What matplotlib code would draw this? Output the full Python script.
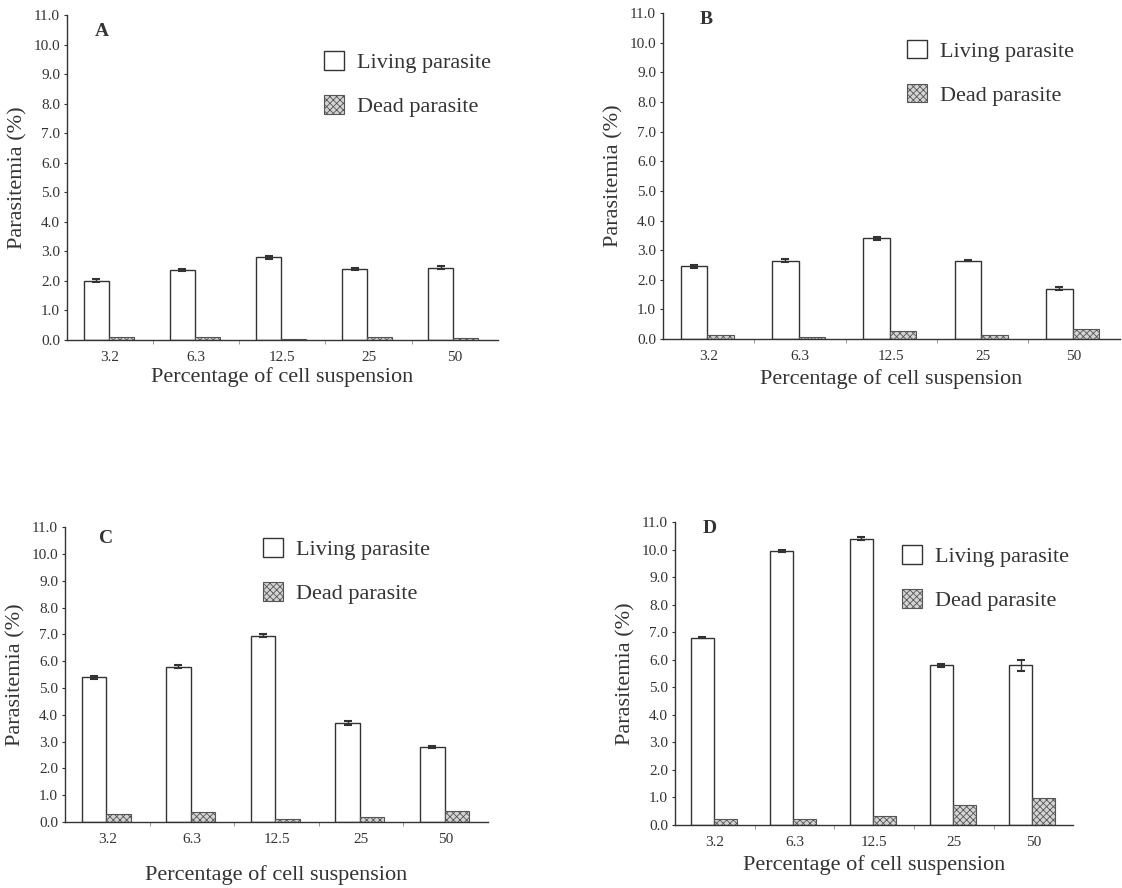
import numpy as np
import matplotlib
matplotlib.use("Agg")
import matplotlib.pyplot as plt

plt.rcParams['font.family'] = ['Liberation Serif', 'DejaVu Serif']
plt.rcParams['hatch.linewidth'] = 0.6
plt.rcParams['hatch.color'] = '#555555'

# data
categories = ['3.2', '6.3', '12.5', '25', '50']

living_a = [2.0, 2.37, 2.8, 2.4, 2.45]
dead_a = [0.10, 0.10, 0.05, 0.10, 0.07]
living_a_err = [0.05, 0.05, 0.05, 0.04, 0.05]

living_b = [2.45, 2.65, 3.4, 2.65, 1.7]
dead_b = [0.13, 0.08, 0.27, 0.15, 0.35]
living_b_err = [0.04, 0.06, 0.05, 0.02, 0.06]

living_c = [5.4, 5.8, 6.95, 3.7, 2.8]
dead_c = [0.30, 0.38, 0.12, 0.20, 0.40]
living_c_err = [0.05, 0.06, 0.06, 0.07, 0.05]

living_d = [6.8, 9.95, 10.4, 5.8, 5.8]
dead_d = [0.22, 0.22, 0.33, 0.72, 0.98]
living_d_err = [0.02, 0.05, 0.05, 0.05, 0.2]

yticks = np.arange(0, 11.5, 1.0)
ink = '#333333'


def draw_panel(ax, living, dead, err, letter, letter_pos, legend_pos):
    x = np.arange(len(categories))
    w = 0.29
    ax.bar(x - 0.16, living, w, color='white', edgecolor=ink, linewidth=1.0,
           yerr=err, error_kw=dict(ecolor=ink, capsize=3, elinewidth=1.0, capthick=1.5),
           label='Living parasite')
    ax.bar(x + 0.13, dead, w, color='#d4d4d4', edgecolor='#555555', linewidth=0.8,
           hatch='xxxxx', label='Dead parasite')
    ax.set_xlim(-0.5, 4.5)
    ax.set_ylim(0, 11.0)
    ax.set_yticks(yticks)
    ax.set_yticklabels([f'{v:.1f}' for v in yticks])
    ax.set_xticks(x)
    ax.set_xticklabels(categories)
    ax.set_xticks(np.arange(0.5, 4.5, 1.0), minor=True)
    ax.tick_params(axis='x', which='major', length=0, pad=8, labelsize=11, colors=ink)
    ax.tick_params(axis='x', which='minor', length=3, color='#888888')
    ax.tick_params(axis='y', length=2, labelsize=11, colors=ink, pad=3)
    for s in ['top', 'right']:
        ax.spines[s].set_visible(False)
    for s in ['left', 'bottom']:
        ax.spines[s].set_color(ink)
        ax.spines[s].set_linewidth(1.0)
    ax.set_ylabel('Parasitemia (%)', fontsize=16, color=ink, labelpad=4)
    ax.set_xlabel('Percentage of cell suspension', fontsize=16, color=ink, labelpad=2)
    ax.text(letter_pos[0], letter_pos[1], letter, transform=ax.transAxes,
            fontsize=14, fontweight='bold', color=ink, ha='left', va='center')
    leg = ax.legend(loc='upper left', bbox_to_anchor=legend_pos, frameon=False,
                    fontsize=16, handlelength=0.9, handleheight=0.9,
                    labelspacing=1.0, handletextpad=0.6)
    for t in leg.get_texts():
        t.set_color(ink)


fig = plt.figure(figsize=(11.22, 8.88), dpi=100)

ax_a = fig.add_axes([0.0597, 0.6171, 0.384, 0.366])
draw_panel(ax_a, living_a, dead_a, living_a_err, 'A', (0.065, 0.95), (0.55, 0.95))

ax_b = fig.add_axes([0.5909, 0.6182, 0.407, 0.367])
draw_panel(ax_b, living_b, dead_b, living_b_err, 'B', (0.08, 0.98), (0.49, 0.98))
ax_b.xaxis.labelpad = 4

ax_c = fig.add_axes([0.058, 0.0743, 0.377, 0.332])
draw_panel(ax_c, living_c, dead_c, living_c_err, 'C', (0.08, 0.96), (0.42, 1.03))
ax_c.xaxis.labelpad = 14

ax_d = fig.add_axes([0.6016, 0.071, 0.355, 0.341])
draw_panel(ax_d, living_d, dead_d, living_d_err, 'D', (0.07, 0.98), (0.52, 0.99))
ax_d.xaxis.labelpad = 4

fig.savefig('out.png', dpi=100)
